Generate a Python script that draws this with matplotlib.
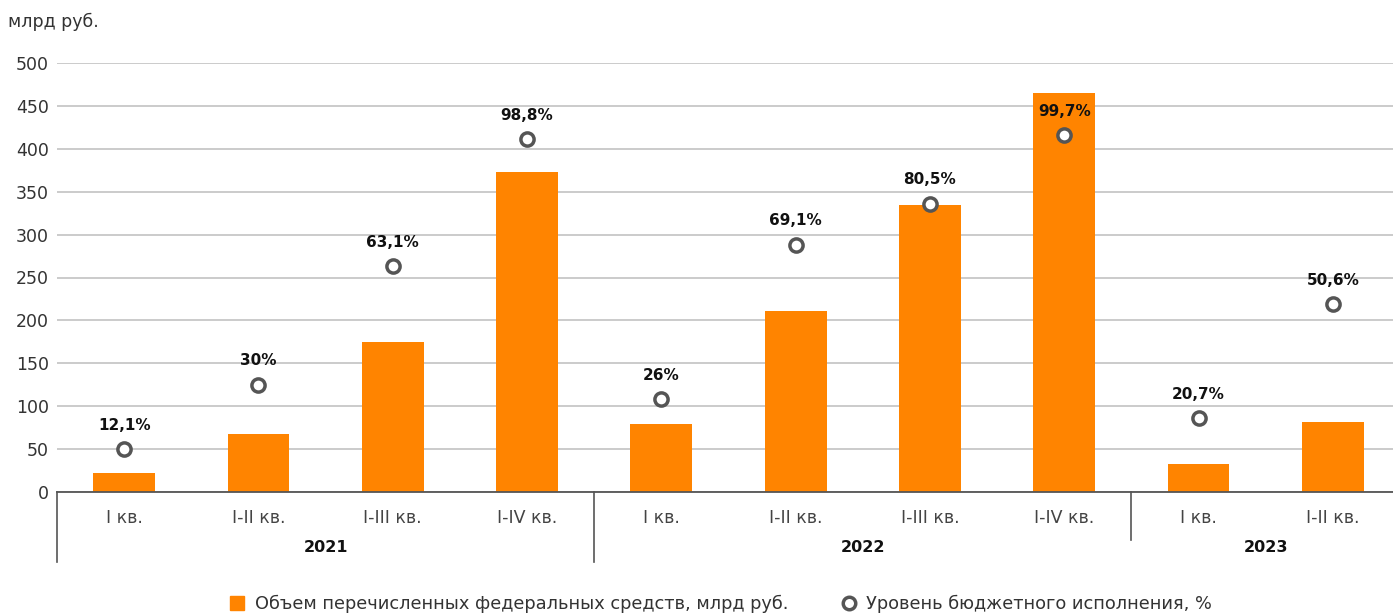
import matplotlib
matplotlib.use("Agg")
import matplotlib.pyplot as plt
from matplotlib.lines import Line2D
from matplotlib.patches import Patch

plt.rcParams['font.family'] = ['DejaVu Sans']

quarters = ["I кв.", "I-II кв.", "I-III кв.", "I-IV кв.",
            "I кв.", "I-II кв.", "I-III кв.", "I-IV кв.",
            "I кв.", "I-II кв."]
years = ["2021", "2022", "2023"]
year_sizes = [4, 4, 2]
volume = [22, 67.5, 175, 373, 79, 211, 335, 465, 32.5, 81.5]
level_pos = [50, 125, 263, 411, 108, 288, 336, 416, 86, 219]
level_labels = ["12,1%", "30%", "63,1%", "98,8%", "26%", "69,1%", "80,5%",
                "99,7%", "20,7%", "50,6%"]

orange = "#FF8400"
W, H = 1393, 615
fig = plt.figure(figsize=(W / 100, H / 100), dpi=100)
ax = fig.add_axes([57 / W, 1 - 492 / H, (1400 - 57) / W, 429 / H])

x = list(range(len(quarters)))
ax.bar(x, volume, width=0.46, color=orange, zorder=2)
ax.plot(x, level_pos, 'o', ms=9.5, mfc='white', mec='#555555', mew=2.5,
        zorder=3, linestyle='none')
for xi, yi, lab in zip(x, level_pos, level_labels):
    ax.annotate(lab, (xi, yi), xytext=(0, 24), textcoords='offset pixels',
                ha='center', va='center', fontsize=11, fontweight='bold',
                color='#111111', zorder=4)

ax.set_xlim(-0.5, len(quarters) - 0.5)
ax.set_ylim(0, 500)
ax.set_yticks(range(0, 501, 50))
ax.yaxis.grid(True, color='#bdbdbd', lw=1.1)
ax.set_axisbelow(True)
for s in ['top', 'right', 'left']:
    ax.spines[s].set_visible(False)
ax.spines['bottom'].set_color('#555555')
ax.spines['bottom'].set_linewidth(1.3)
ax.tick_params(axis='y', length=0, pad=6, labelsize=12.5, labelcolor='#333333')
ax.set_xticks(x)
ax.set_xticklabels(quarters)
ax.tick_params(axis='x', length=0, pad=12, labelsize=12.5, labelcolor='#444444')

# year groups
start = 0
for i, (yr, n) in enumerate(zip(years, year_sizes)):
    bottom = -0.112 if i == 2 else -0.163
    ax.plot([start - 0.5, start - 0.5], [0, bottom], color='#555555', lw=1.2,
            transform=ax.get_xaxis_transform(), clip_on=False)
    ax.text(start + (n - 1) / 2, -0.1305, yr, ha='center', va='center',
            fontsize=11.5, fontweight='bold', color='#111111',
            transform=ax.get_xaxis_transform())
    start += n

fig.text(8 / W, 1 - 22 / H, "млрд руб.", ha='left', va='center',
         fontsize=12.5, color='#333333')

handles = [Patch(color=orange, label="Объем перечисленных федеральных средств, млрд руб."),
           Line2D([], [], marker='o', ls='none', ms=9, mfc='white', mec='#555555',
                  mew=2.5, label="Уровень бюджетного исполнения, %")]
fig.legend(handles=handles, loc='center', bbox_to_anchor=(721 / W, 1 - 604 / H),
           ncol=2, frameon=False, fontsize=12.8, handlelength=0.8,
           handleheight=0.8, handletextpad=0.6, columnspacing=3.0,
           labelcolor='#333333', borderpad=0)

fig.savefig("out.png", dpi=100)
